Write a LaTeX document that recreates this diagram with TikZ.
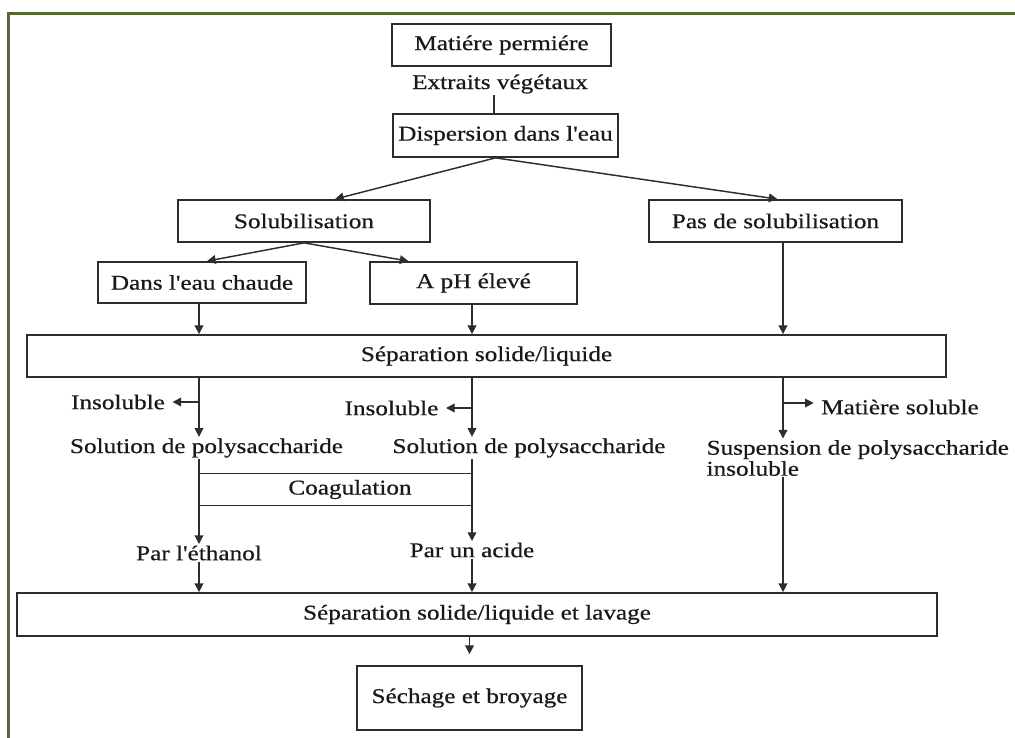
\documentclass[tikz,border=0pt]{standalone}
\usepackage{fontspec}
\setmainfont[FakeStretch=1.2, FakeBold=0.6, Ligatures=TeXOff]{Liberation Serif}
\usetikzlibrary{arrows.meta,calc}
\definecolor{framegreen}{RGB}{86,107,47}
\definecolor{ink}{RGB}{45,45,45}

\begin{document}
\begin{tikzpicture}[x=0.75pt,y=-0.75pt,
  every node/.style={font=\fontsize{15.75}{15.75}\selectfont, text=black!90},
  size/.style 2 args={minimum width=#1*0.75pt, minimum height=#2*0.75pt},
  box/.style={draw=ink, line width=1.3pt, rectangle, inner sep=0pt},
  lbl/.style={inner sep=1pt},
  link/.style={draw=ink, line width=1.1pt},
  arr/.style={link, -{Triangle[length=6.5pt,width=6.5pt]}}]

\useasboundingbox (0,0) rectangle (1015,738);

% page frame
\draw[framegreen, line width=2.25pt] (8,738) -- (8,14) -- (1015,14);

% column guides for the vertical flows
\coordinate (colE) at (494,0);
\coordinate (colA) at (199,0);
\coordinate (colB) at (472,0);
\coordinate (colC) at (783,0);

% boxes
\node[box, size={219}{42}] (mp) at (501.5,45) {Matiére permiére};
\node[lbl] (extr) at (500,84) {Extraits végétaux};
\node[box, size={225}{43}] (disp) at (505.5,135.5) {Dispersion dans l'eau};
\node[box, size={252}{42}] (solub) at (304,221) {Solubilisation};
\node[box, size={253}{42}] (pas) at (775.5,221) {Pas de solubilisation};
\node[box, size={208}{41}] (chaude) at (202,282.5) {Dans l'eau chaude};
\node[box, size={207}{42}] (ph) at (473.5,283) {A pH élevé};
\node[box, size={919}{42}] (sep1) at (486.5,356) {Séparation solide/liquide};

% intermediate labels
\node[lbl] (ins1) at (118,402) {Insoluble};
\node[lbl] (ins2) at (391.5,408) {Insoluble};
\node[lbl] (msol) at (900,407) {Matière soluble};
\node[lbl] (sol1) at (206.5,448) {Solution de polysaccharide};
\node[lbl] (sol2) at (529,448) {Solution de polysaccharide};
\node[lbl, anchor=west, align=left] (susp) at (705,458) {Suspension de polysaccharide\\insoluble};
\node[lbl, size={10}{31}] (coag) at (350,489.5) {Coagulation};
\node[lbl] (eth) at (199,553) {Par l'éthanol};
\node[lbl] (acid) at (472,550) {Par un acide};

\node[box, size={920}{43}] (sep2) at (477,614.5) {Séparation solide/liquide et lavage};
\node[box, size={225}{64}] (sech) at (469.5,698) {Séchage et broyage};

% top of the chain
\draw[link] (extr.south -| colE) -- (disp.north -| colE);
\coordinate (dsplit) at ($(disp.south)+(-10,0)$);
\draw[arr] (dsplit) -- ($(solub.north)+(31,0)$);
\draw[arr] (dsplit) -- ($(pas.north)+(2,0)$);
\draw[arr] (solub.south) -- ($(chaude.north)+(5,0)$);
\draw[arr] (solub.south) -- ($(ph.north)+(-65,0)$);

% into the first separation
\draw[arr] (chaude.south -| colA) -- (sep1.north -| colA);
\draw[arr] (ph.south -| colB) -- (sep1.north -| colB);
\draw[arr] (pas.south -| colC) -- (sep1.north -| colC);

% out of the first separation
\draw[arr] (sep1.south -| colA) -- (sol1.north -| colA);
\draw[arr] (ins1.east -| colA) -- ($(ins1.east)+(6,0)$);
\draw[arr] (sep1.south -| colB) -- (sol2.north -| colB);
\draw[arr] (ins2.east -| colB) -- ($(ins2.east)+(6,0)$);
\draw[arr] (sep1.south -| colC) -- (susp.north -| colC);
\coordinate (msolin) at ($(msol.west)+(-6,-4)$);
\draw[arr] (msolin -| colC) -- (msolin);

% coagulation band
\draw[link] (coag.north -| colA) -- (coag.north -| colB);
\draw[link] (coag.south -| colA) -- (coag.south -| colB);
\draw[arr] (sol1.south -| colA) -- (eth.north -| colA);
\draw[arr] (sol2.south -| colB) -- (acid.north -| colB);

% into the washing step
\draw[arr] (eth.south -| colA) -- (sep2.north -| colA);
\draw[arr] (acid.south -| colB) -- (sep2.north -| colB);
\draw[arr] (susp.south -| colC) -- (sep2.north -| colC);

% drying
\draw[arr] (sep2.south -| sech.north) -- ($(sech.north)+(0,-11)$);
\end{tikzpicture}
\end{document}
